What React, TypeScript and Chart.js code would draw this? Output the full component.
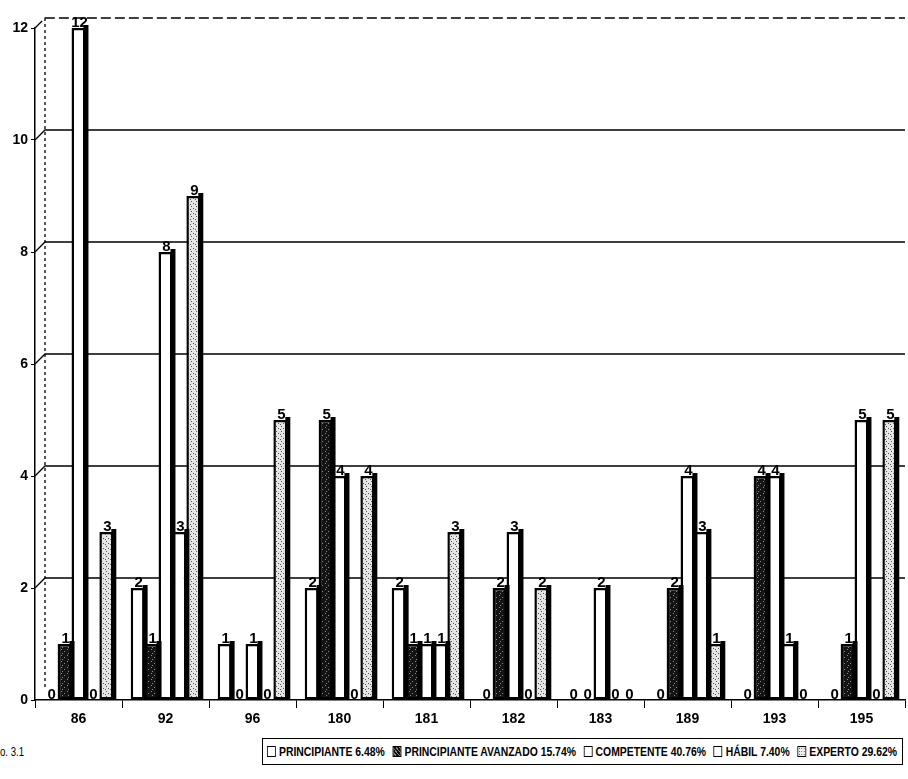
import React, { useEffect, useRef } from 'react';
import { Chart, registerables } from 'chart.js';

Chart.register(...registerables);

// Counts per group and skill level
const categories = ['86', '92', '96', '180', '181', '182', '183', '189', '193', '195'];
const principiante = [0, 2, 1, 2, 2, 0, 0, 0, 0, 0];
const principianteAvanzado = [1, 1, 0, 5, 1, 2, 0, 2, 4, 1];
const competente = [12, 8, 1, 4, 1, 3, 2, 4, 4, 5];
const habil = [0, 3, 0, 0, 1, 0, 0, 3, 1, 0];
const experto = [3, 9, 5, 4, 3, 2, 0, 1, 0, 5];

const seriesNames = ['PRINCIPIANTE', 'PRINCIPIANTE AVANZADO', 'COMPETENTE', 'HÁBIL', 'EXPERTO'];
const seriesShares = ['6.48%', '15.74%', '40.76%', '7.40%', '29.62%'];
const yTicks = [0, 2, 4, 6, 8, 10, 12];

const FONT = "'Liberation Sans', Arial, sans-serif";

function makePattern(bg: string, fg: string, size: number, dots: [number, number][]) {
  const c = document.createElement('canvas');
  c.width = size;
  c.height = size;
  const g = c.getContext('2d')!;
  g.fillStyle = bg;
  g.fillRect(0, 0, size, size);
  g.fillStyle = fg;
  dots.forEach(([x, y]) => g.fillRect(x, y, 1, 1));
  return g.createPattern(c, 'repeat')!;
}

// Back wall with gridlines, drawn behind the bars
const backWall = {
  id: 'backWall',
  beforeDatasetsDraw(chart: any) {
    const { ctx, chartArea, scales } = chart;
    const y = scales.y;
    const d = 10;
    ctx.save();
    ctx.strokeStyle = '#000';
    ctx.lineWidth = 1.3;
    yTicks.forEach((v) => {
      if (v === 0) return;
      const py = y.getPixelForValue(v);
      ctx.setLineDash(v === 12 ? [10, 4] : []);
      ctx.beginPath();
      ctx.moveTo(chartArea.left, py);
      ctx.lineTo(chartArea.left + d, py - d);
      ctx.lineTo(chartArea.right, py - d);
      ctx.stroke();
    });
    ctx.setLineDash([3, 3]);
    ctx.beginPath();
    ctx.moveTo(chartArea.left + d, y.getPixelForValue(12) - d);
    ctx.lineTo(chartArea.left + d, chartArea.bottom - d);
    ctx.stroke();
    ctx.restore();
  },
};

// Dark side strips and value labels on every bar
const barDecor = {
  id: 'barDecor',
  afterDatasetsDraw(chart: any) {
    const { ctx } = chart;
    ctx.save();
    chart.data.datasets.forEach((ds: any, i: number) => {
      const meta = chart.getDatasetMeta(i);
      meta.data.forEach((el: any, j: number) => {
        const w = el.width;
        const right = el.x + w / 2;
        const h = el.base - el.y;
        ctx.fillStyle = '#000';
        if (h > 0) {
          ctx.fillRect(right - 2, el.y - 3, 5, h + 3);
        }
        ctx.font = `bold 15px ${FONT}`;
        ctx.textAlign = 'center';
        ctx.textBaseline = 'bottom';
        ctx.fillText(String(ds.data[j]), el.x + 1, el.y + 2);
      });
    });
    ctx.restore();
  },
};

export default function App() {
  const ref = useRef<HTMLCanvasElement>(null);

  useEffect(() => {
    document.body.style.margin = '0';
    const darkFill = makePattern('#141414', '#8a8a8a', 6, [[1, 1], [4, 3], [2, 5]]);
    const dotFill = makePattern('#e6e6e6', '#555', 5, [[1, 1], [3, 3], [0, 4]]);
    const fills = ['#ffffff', darkFill, '#ffffff', '#ffffff', dotFill];
    const series = [principiante, principianteAvanzado, competente, habil, experto];

    const chart = new Chart(ref.current!, {
      type: 'bar',
      data: {
        labels: categories,
        datasets: series.map((data, i) => ({
          label: seriesNames[i],
          data,
          backgroundColor: fills[i],
          borderColor: '#000',
          borderWidth: 2.5,
          borderSkipped: false,
          categoryPercentage: 0.8,
          barPercentage: 1.0,
        })),
      },
      options: {
        animation: false,
        responsive: false,
        layout: { padding: { top: 28, right: 3, left: 0, bottom: 0 } },
        plugins: {
          legend: { display: false },
          tooltip: { enabled: false },
        },
        scales: {
          x: {
            offset: true,
            grid: {
              display: true,
              drawOnChartArea: false,
              offset: true,
              tickLength: 8,
              color: '#000',
            },
            border: { color: '#000', width: 1.5 },
            ticks: {
              color: '#000',
              font: { family: FONT, size: 14, weight: 'bold' },
              padding: 3,
            },
            afterFit(scale: any) {
              scale.height = 30;
            },
          },
          y: {
            min: 0,
            max: 12,
            afterBuildTicks(scale: any) {
              scale.ticks = yTicks.map((v) => ({ value: v }));
            },
            grid: {
              display: true,
              drawOnChartArea: false,
              tickLength: 4,
              color: '#000',
            },
            border: { color: '#000', width: 1.5, dash: [4, 2] },
            ticks: {
              color: '#000',
              font: { family: FONT, size: 14, weight: 'bold' },
              padding: 3,
            },
            afterFit(scale: any) {
              scale.width = 35;
            },
          },
        },
      },
      plugins: [backWall, barDecor],
    });
    return () => chart.destroy();
  }, []);

  const legendSwatch = (i: number) => {
    const base: React.CSSProperties = {
      display: 'inline-block',
      width: 9,
      height: 9,
      border: '1.5px solid #000',
      marginRight: 4,
      boxSizing: 'content-box',
    };
    if (i === 1) base.background = 'repeating-linear-gradient(45deg,#111 0 2px,#888 2px 3px)';
    else if (i === 4) base.background = 'radial-gradient(#555 30%, #eee 31%) 0 0 / 3px 3px';
    else base.background = '#fff';
    return <span style={base} />;
  };

  const squeeze = 0.8;
  const legendW = 641;

  return (
    <div style={{ position: 'relative', width: 908, height: 779, background: '#fff', overflow: 'hidden' }}>
      <canvas ref={ref} width={908} height={730} style={{ position: 'absolute', left: 0, top: 0 }} />
      <div
        style={{
          position: 'absolute',
          left: 0,
          top: 745,
          fontFamily: FONT,
          fontSize: 12,
          color: '#000',
          transform: `scaleX(${squeeze})`,
          transformOrigin: 'left center',
        }}
      >
        o. 3.1
      </div>
      <div
        style={{
          position: 'absolute',
          left: 262,
          top: 738,
          width: legendW,
          height: 27,
          border: '1.5px solid #000',
          boxSizing: 'border-box',
          overflow: 'hidden',
        }}
      >
        <div
          style={{
            width: (legendW - 3) / squeeze,
            height: '100%',
            transform: `scaleX(${squeeze})`,
            transformOrigin: 'left center',
            display: 'flex',
            alignItems: 'center',
            justifyContent: 'space-between',
            padding: '0 5px',
            boxSizing: 'border-box',
            fontFamily: FONT,
            fontWeight: 'bold',
            fontSize: 13,
            color: '#000',
            whiteSpace: 'nowrap',
          }}
        >
          {seriesNames.map((name, i) => (
            <span key={name} style={{ display: 'inline-flex', alignItems: 'center' }}>
              {legendSwatch(i)}
              {name} {seriesShares[i]}
            </span>
          ))}
        </div>
      </div>
    </div>
  );
}
